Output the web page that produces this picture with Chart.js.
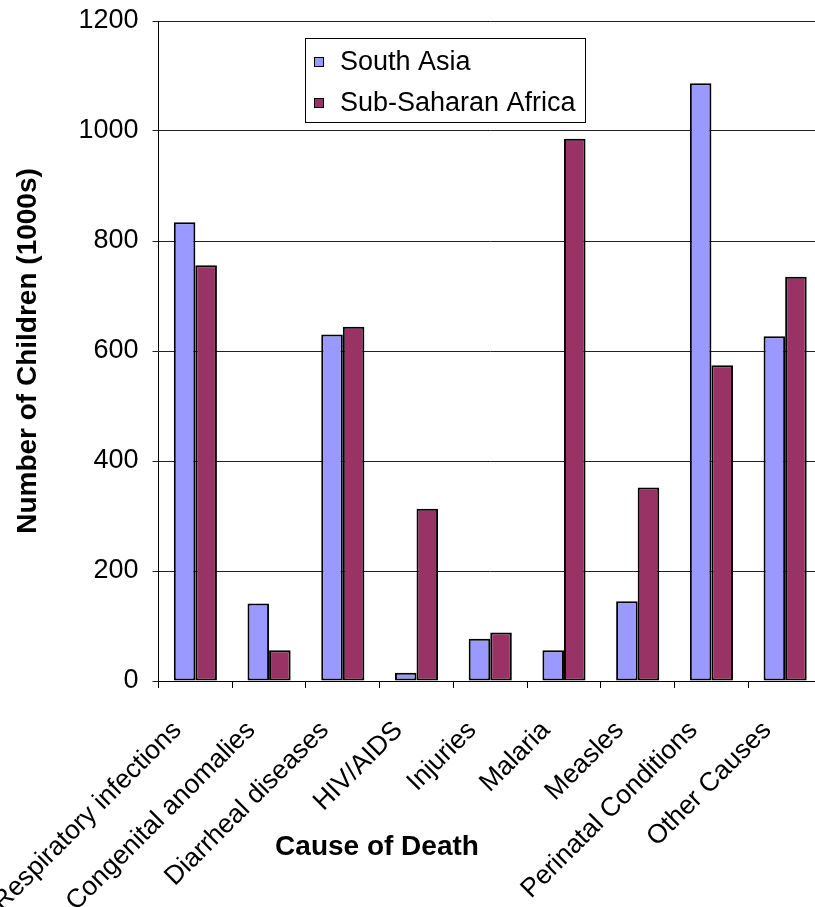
<!DOCTYPE html>
<html>
<head>
<meta charset="utf-8">
<script src="https://cdn.jsdelivr.net/npm/chart.js@4.4.1/dist/chart.umd.min.js"></script>
<style>
  html, body { margin: 0; padding: 0; background: #ffffff; overflow: hidden; width: 815px; height: 907px; }
  #wrap { position: absolute; left: 0; top: 0; width: 822px; height: 907px; }
</style>
</head>
<body>
<div id="wrap"><canvas id="c" width="822" height="907"></canvas></div>
<script>
const categories = ["Respiratory infections", "Congenital anomalies", "Diarrheal diseases", "HIV/AIDS", "Injuries", "Malaria", "Measles", "Perinatal Conditions", "Other Causes"];
const southAsia = [834, 141, 630, 15, 77, 56, 145, 1087, 627];
const subSaharanAfrica = [756, 56, 644, 313, 88, 986, 352, 574, 735];
const seriesNames = ["South Asia", "Sub-Saharan Africa"];
const yTitle = "Number of Children (1000s)";
const xTitle = "Cause of Death";
const yTicks = [0, 200, 400, 600, 800, 1000, 1200];

const FONT = "'Liberation Sans', Arial, sans-serif";

const legendPlugin = {
  id: 'boxLegend',
  afterDraw(chart) {
    const ctx = chart.ctx;
    ctx.save();
    ctx.fillStyle = '#ffffff';
    ctx.fillRect(305.5, 38.5, 280, 84);
    ctx.strokeStyle = '#000000';
    ctx.lineWidth = 1;
    ctx.strokeRect(305.5, 38.5, 280, 84);
    ctx.font = "27px " + FONT;
    ctx.textBaseline = 'middle';
    ctx.textAlign = 'left';
    chart.data.datasets.forEach((ds, i) => {
      const cy = 62 + i * 41;
      ctx.fillStyle = ds.backgroundColor;
      ctx.fillRect(314.5, cy - 4.5, 9, 9);
      ctx.strokeStyle = '#000000';
      ctx.strokeRect(314.5, cy - 4.5, 9, 9);
      ctx.fillStyle = '#000000';
      ctx.fillText(ds.label, 340, cy + 1);
    });
    ctx.font = "bold 28px " + FONT;
    ctx.textAlign = 'center';
    ctx.fillText(xTitle, 377, 847);
    ctx.restore();
  }
};

new Chart(document.getElementById('c'), {
  type: 'bar',
  data: {
    labels: categories,
    datasets: [
      { label: seriesNames[0], data: southAsia, backgroundColor: '#9999FF', borderColor: '#000000', borderWidth: 2, borderSkipped: false },
      { label: seriesNames[1], data: subSaharanAfrica, backgroundColor: '#993366', borderColor: '#000000', borderWidth: 2, borderSkipped: false }
    ]
  },
  options: {
    responsive: false,
    animation: false,
    devicePixelRatio: 1,
    categoryPercentage: 0.585,
    barPercentage: 1.0,
    layout: { padding: { top: 21, left: 0, right: 0, bottom: 0 } },
    plugins: {
      legend: { display: false },
      tooltip: { enabled: false }
    },
    scales: {
      x: {
        grid: { display: true, drawOnChartArea: false, drawTicks: true, tickLength: 7, color: '#000000', offset: true },
        border: { display: true, color: '#000000', width: 1 },
        ticks: {
          color: '#000000',
          font: { family: FONT, size: 26.5 },
          maxRotation: 45, minRotation: 45,
          autoSkip: false,
          padding: 27,
          labelOffset: -18
        },
        afterFit(scale) {
          scale.height = 907 - 681;
          scale.paddingLeft = 0;
          scale.paddingRight = 0;
        }
      },
      y: {
        min: 0, max: 1200,
        afterBuildTicks(scale) { scale.ticks = yTicks.map(v => ({ value: v })); },
        grid: { color: '#222222', lineWidth: 1, tickLength: 6, drawTicks: true },
        border: { display: true, color: '#000000', width: 1 },
        ticks: { color: '#000000', font: { family: FONT, size: 27 }, padding: 14, callback: (v) => String(v) },
        title: { display: true, text: yTitle, color: '#000000', font: { family: FONT, size: 28, weight: 'bold' }, padding: { top: 11, bottom: 0 } },
        afterFit(scale) {
          scale.width = 158.5;
          scale.paddingTop = 0;
          scale.paddingBottom = 0;
        }
      }
    }
  },
  plugins: [legendPlugin]
});
</script>
</body>
</html>
